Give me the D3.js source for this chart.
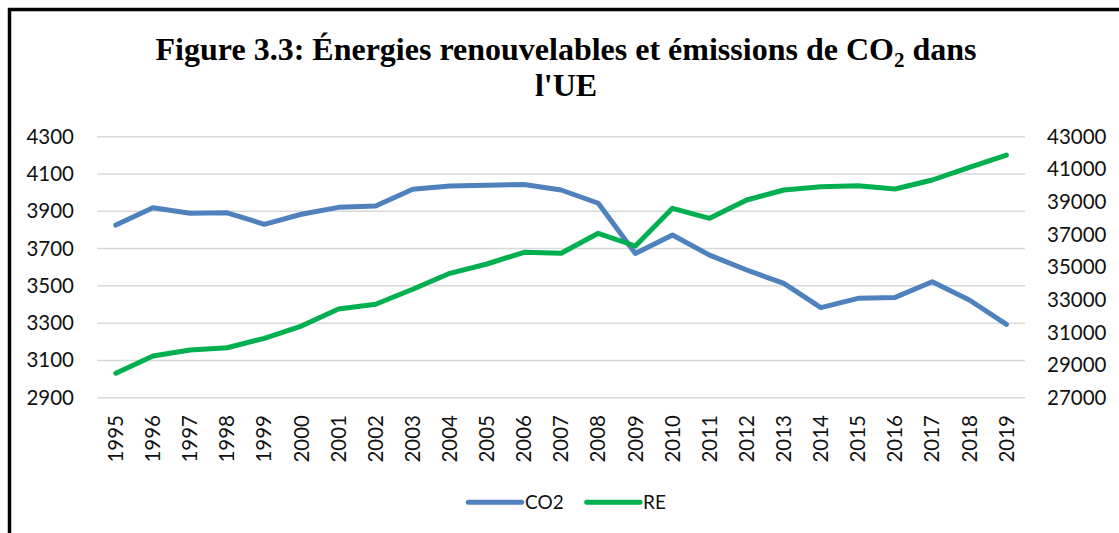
<!DOCTYPE html>
<html>
<head>
<meta charset="utf-8">
<script src="https://cdn.jsdelivr.net/npm/d3@7"></script>
<style>
  html, body { margin: 0; padding: 0; background: #fff; }
  svg { display: block; }
</style>
</head>
<body>
<svg id="chart" width="1119" height="533"></svg>
<script>
const years = ["1995","1996","1997","1998","1999","2000","2001","2002","2003","2004","2005","2006","2007","2008","2009","2010","2011","2012","2013","2014","2015","2016","2017","2018","2019"];
const co2 = [3826,3919,3889,3892,3830,3884,3921,3928,4018,4035,4039,4044,4014,3943,3674,3773,3665,3585,3513,3383,3433,3438,3522,3424,3293];
const re = [28500,29556,29924,30065,30641,31395,32438,32726,33645,34626,35196,35913,35852,37078,36300,38611,37998,39120,39733,39935,39996,39794,40346,41124,41878];
const leftTicks = [2900,3100,3300,3500,3700,3900,4100,4300];
const rightTicks = [27000,29000,31000,33000,35000,37000,39000,41000,43000];
const seriesNames = ["CO2","RE"];
const seriesColors = ["#4F81BD","#00B050"];

const svg = d3.select("#chart");
const W = 1119, H = 533;

// frame (left + top border)
svg.append("rect").attr("x", 9.5).attr("y", 9.5).attr("width", W + 20).attr("height", H + 20)
  .attr("fill", "#fff").attr("stroke", "#000").attr("stroke-width", 3.5);

const x = d3.scaleBand().domain(years).range([97.3, 1025]).padding(0);
const yL = d3.scaleLinear().domain([2900, 4300]).range([397.7, 136.7]);
const yR = d3.scaleLinear().domain([27000, 43000]).range([397.7, 136.7]);

const tickFont = "Lato, 'Open Sans', sans-serif";

// gridlines
svg.append("g").selectAll("line").data(leftTicks).join("line")
  .attr("x1", 97.3).attr("x2", 1025)
  .attr("y1", d => yL(d)).attr("y2", d => yL(d))
  .attr("stroke", "#d9d9d9").attr("stroke-width", 1.5);

// left axis
const gL = svg.append("g").attr("transform", "translate(74,0)")
  .call(d3.axisLeft(yL).tickValues(leftTicks).tickSize(0).tickPadding(0).tickFormat(d3.format("d")));
gL.select(".domain").remove();
gL.selectAll("text").attr("font-family", tickFont).attr("font-size", 20.5).attr("fill", "#111");

// right axis
const gR = svg.append("g").attr("transform", "translate(1047,0)")
  .call(d3.axisRight(yR).tickValues(rightTicks).tickSize(0).tickPadding(0).tickFormat(d3.format("d")));
gR.select(".domain").remove();
gR.selectAll("text").attr("font-family", tickFont).attr("font-size", 20.5).attr("fill", "#111");

// x axis
const gX = svg.append("g").attr("transform", "translate(0,415)")
  .call(d3.axisBottom(x).tickSize(0).tickPadding(0));
gX.select(".domain").remove();
gX.selectAll("text")
  .attr("font-family", tickFont).attr("font-size", 20.5).attr("fill", "#111")
  .attr("transform", "rotate(-90)")
  .attr("text-anchor", "end")
  .attr("x", 0).attr("y", 0).attr("dy", "0.35em");

// lines
const lineL = d3.line().x((d, i) => x(years[i]) + x.bandwidth() / 2).y(d => yL(d));
const lineR = d3.line().x((d, i) => x(years[i]) + x.bandwidth() / 2).y(d => yR(d));
svg.append("path").datum(co2).attr("d", lineL).attr("fill", "none")
  .attr("stroke", seriesColors[0]).attr("stroke-width", 5).attr("stroke-linejoin", "round").attr("stroke-linecap", "round");
svg.append("path").datum(re).attr("d", lineR).attr("fill", "none")
  .attr("stroke", seriesColors[1]).attr("stroke-width", 5).attr("stroke-linejoin", "round").attr("stroke-linecap", "round");

// legend
const legendItems = [{x1: 468.3, x2: 521.7, tx: 525}, {x1: 586.7, x2: 640, tx: 643}];
const lg = svg.append("g");
seriesNames.forEach((name, i) => {
  const it = legendItems[i];
  lg.append("line").attr("x1", it.x1).attr("x2", it.x2).attr("y1", 502.3).attr("y2", 502.3)
    .attr("stroke", seriesColors[i]).attr("stroke-width", 5).attr("stroke-linecap", "round");
  lg.append("text").attr("x", it.tx).attr("y", 502.3).attr("dy", "0.35em")
    .attr("font-family", tickFont).attr("font-size", 19).attr("fill", "#111").text(name);
});

// title
const title = svg.append("text").attr("x", 566).attr("y", 59.5).attr("text-anchor", "middle")
  .attr("font-family", "'Liberation Serif', 'Times New Roman', serif").attr("font-weight", "bold")
  .attr("font-size", 32).attr("fill", "#000");
title.append("tspan").text("Figure 3.3: Énergies renouvelables et émissions de CO");
title.append("tspan").attr("font-size", 21).attr("dy", 7).text("2");
title.append("tspan").attr("dy", -7).text(" dans");
svg.append("text").attr("x", 566).attr("y", 96).attr("text-anchor", "middle")
  .attr("font-family", "'Liberation Serif', 'Times New Roman', serif").attr("font-weight", "bold")
  .attr("font-size", 32).attr("fill", "#000").text("l'UE");
</script>
</body>
</html>
